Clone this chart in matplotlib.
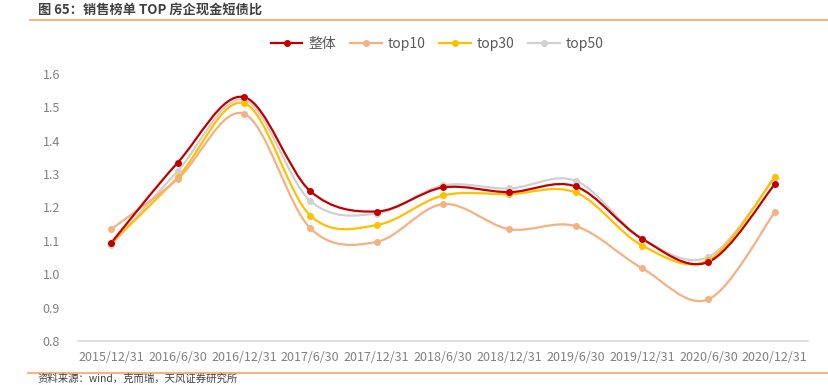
import matplotlib
matplotlib.use("Agg")
import matplotlib.pyplot as plt
from matplotlib.path import Path
from matplotlib.patches import PathPatch
from matplotlib.lines import Line2D

plt.rcParams['font.family'] = ['Noto Sans CJK SC', 'DejaVu Sans']

dates = ["2015/12/31", "2016/6/30", "2016/12/31", "2017/6/30", "2017/12/31", "2018/6/30",
         "2018/12/31", "2019/6/30", "2019/12/31", "2020/6/30", "2020/12/31"]
overall = [1.094, 1.334, 1.531, 1.249, 1.188, 1.260, 1.246, 1.263, 1.106, 1.037, 1.270]
top10 = [1.135, 1.285, 1.481, 1.138, 1.097, 1.210, 1.135, 1.144, 1.018, 0.925, 1.186]
top30 = [1.093, 1.290, 1.513, 1.176, 1.147, 1.236, 1.240, 1.245, 1.086, 1.042, 1.292]
top50 = [1.087, 1.309, 1.523, 1.220, 1.182, 1.266, 1.257, 1.280, 1.107, 1.052, 1.290]

series = [("整体", overall, "#C00000"),
          ("top10", top10, "#F4B183"),
          ("top30", top30, "#FFC000"),
          ("top50", top50, "#D0D0D0")]


def smooth_path(xs, ys):
    # excel-like smoothed line: catmull-rom turned into bezier segments
    pts = list(zip(xs, ys))
    verts = [pts[0]]
    codes = [Path.MOVETO]
    n = len(pts)
    for i in range(n - 1):
        p0 = pts[i - 1] if i > 0 else pts[i]
        p1 = pts[i]
        p2 = pts[i + 1]
        p3 = pts[i + 2] if i + 2 < n else pts[i + 1]
        c1 = (p1[0] + (p2[0] - p0[0]) / 6, p1[1] + (p2[1] - p0[1]) / 6)
        c2 = (p2[0] - (p3[0] - p1[0]) / 6, p2[1] - (p3[1] - p1[1]) / 6)
        verts += [c1, c2, p2]
        codes += [Path.CURVE4] * 3
    return Path(verts, codes)


fig = plt.figure(figsize=(8.29, 3.85), dpi=100)
ax = fig.add_axes([78 / 829, 1 - 341 / 385, (808 - 78) / 829, (341 - 74) / 385])

x = list(range(len(dates)))
handles = []
for name, vals, col in series[::-1]:
    ax.add_patch(PathPatch(smooth_path(x, vals), fill=False, edgecolor=col, lw=1.6, zorder=3))
    ax.plot(x, vals, "o", color=col, ms=4, zorder=4)
for name, vals, col in series:
    handles.append(Line2D([], [], color=col, lw=1.6, marker="o", ms=4, label=name))

ax.set_xlim(-0.5, len(dates) - 0.5)
ax.set_ylim(0.8, 1.6)
ax.set_yticks([0.8, 0.9, 1.0, 1.1, 1.2, 1.3, 1.4, 1.5, 1.6])
ax.set_yticklabels(["%.1f" % v for v in ax.get_yticks()])
ax.set_xticks(x)
ax.set_xticklabels(dates)
ax.tick_params(axis="both", length=0, labelsize=9, labelcolor="#808080")
ax.tick_params(axis="x", pad=7)
ax.tick_params(axis="y", pad=13)
for s in ["top", "right", "left"]:
    ax.spines[s].set_visible(False)
ax.spines["bottom"].set_color("#D9D9D9")
ax.spines["bottom"].set_linewidth(1.2)

fig.legend(handles=handles, loc="center", bbox_to_anchor=(437 / 829, 1 - 44 / 385), ncol=4,
           frameon=False, fontsize=10, labelcolor="#595959", handlelength=2.3, columnspacing=1.0,
           handletextpad=0.4)

fig.text(38 / 829, 1 - 10 / 385, "图 65：销售榜单 TOP 房企现金短债比", fontsize=9.5, fontweight="bold",
         color="#404040", va="center", ha="left")
fig.add_artist(Line2D([30 / 829, 1], [1 - 20 / 385, 1 - 20 / 385], color="#F8B47C", lw=1.5))
fig.add_artist(Line2D([28 / 829, 1], [1 - 373 / 385, 1 - 373 / 385], color="#F8B47C", lw=1.5))
fig.text(38 / 829, 1 - 384 / 385, "资料来源：wind，克而瑞，天风证券研究所", fontsize=7.5,
         color="#404040", va="bottom", ha="left")

fig.savefig("out.png", dpi=100)
